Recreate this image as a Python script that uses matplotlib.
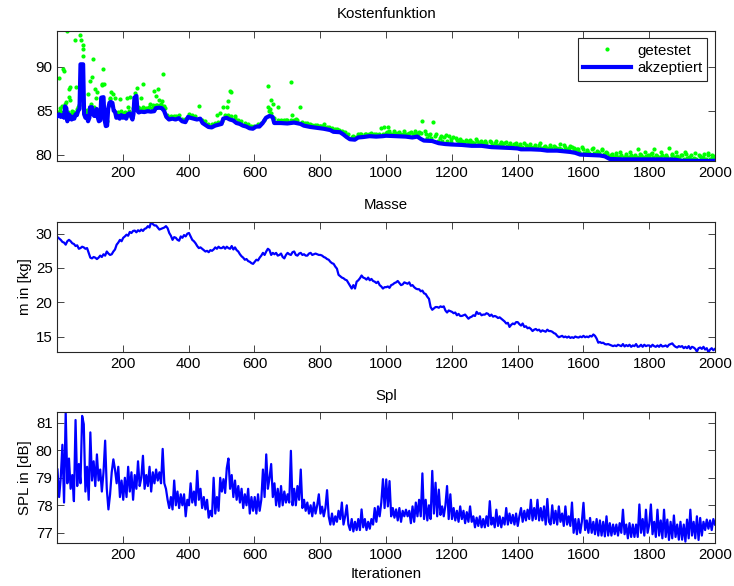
import numpy as np
import matplotlib
matplotlib.use("Agg")
import matplotlib.pyplot as plt

plt.rcParams["font.family"] = ["Liberation Sans", "DejaVu Sans"]
plt.rcParams["font.size"] = 10.8

# ---- Kostenfunktion: accepted cost (iteration, value) ----
cost_iter = [1, 6, 11, 16, 21, 24, 28, 31, 35, 40, 44, 48, 52, 56, 60, 64, 68, 71, 79, 82,
             86, 90, 94, 98, 100, 106, 109, 113, 117, 120, 123, 127, 131, 134, 141, 144, 148, 152, 155, 159,
             163, 168, 172, 176, 180, 185, 190, 195, 200, 205, 210, 215, 220, 225, 229, 232, 235, 241, 244, 248,
             255, 265, 275, 285, 295, 300, 310, 318, 325, 332, 340, 350, 360, 370, 380, 390, 398, 405, 415, 425,
             435, 442, 450, 460, 470, 480, 490, 500, 505, 515, 525, 535, 545, 555, 565, 575, 585, 595, 605, 615,
             625, 635, 645, 655, 660, 680, 700, 720, 740, 750, 770, 790, 810, 830, 840, 860, 870, 880, 890, 905,
             915, 930, 950, 970, 990, 1000, 1030, 1060, 1080, 1095, 1105, 1115, 1140, 1160, 1180, 1200, 1230, 1260, 1290, 1320,
             1350, 1380, 1400, 1410, 1440, 1470, 1490, 1520, 1545, 1560, 1575, 1590, 1620, 1650, 1665, 1680, 1720, 1760, 1800, 1840,
             1880, 1895, 1940, 1980, 2000]
cost_accepted = [84.4, 84.6, 84.3, 84.5, 84.2, 85.5, 85.3, 83.8, 84.6, 84.4, 84.0, 84.3, 84.1, 84.6, 84.5, 85.0, 85.2, 90.3, 90.3, 84.6,
                 84.2, 84.4, 83.8, 84.2, 85.4, 85.4, 84.6, 84.4, 84.6, 85.2, 84.3, 83.8, 83.9, 86.5, 86.55, 84.0, 83.25, 83.3, 85.2, 85.9,
                 86.0, 85.9, 85.0, 84.9, 84.2, 84.4, 84.1, 84.5, 84.2, 84.4, 84.1, 84.6, 84.7, 84.3, 84.0, 84.6, 86.5, 86.7, 85.0, 84.8,
                 84.9, 84.85, 84.95, 84.9, 84.95, 85.3, 85.35, 85.3, 85.0, 84.3, 84.0, 84.1, 84.0, 84.15, 83.8, 83.7, 84.3, 84.2, 84.1, 84.0,
                 84.1, 83.6, 83.4, 83.15, 83.1, 83.3, 83.4, 83.5, 84.1, 84.2, 84.0, 83.9, 83.6, 83.5, 83.3, 83.2, 83.0, 82.95, 83.2, 83.2,
                 83.6, 84.2, 84.4, 84.3, 83.6, 83.6, 83.55, 83.65, 83.5, 83.3, 83.15, 83.05, 82.95, 82.8, 82.6, 82.55, 82.3, 82.0, 81.75, 81.7,
                 81.95, 82.0, 82.1, 82.05, 82.1, 82.15, 82.1, 82.05, 81.95, 82.05, 81.8, 81.6, 81.55, 81.3, 81.2, 81.15, 81.1, 81.0, 81.0, 80.85,
                 80.8, 80.75, 80.7, 80.6, 80.6, 80.55, 80.45, 80.45, 80.35, 80.3, 80.2, 80.0, 79.95, 79.9, 79.8, 79.5, 79.45, 79.45, 79.45, 79.45,
                 79.42, 79.3, 79.28, 79.27, 79.3]

# ---- Kostenfunktion: tested candidates (iteration, value) ----
tested_iter = [5, 18, 20, 25, 30, 35, 38, 35, 40, 55, 57, 70, 72, 78, 80, 78, 68, 93, 100, 105,
               108, 115, 120, 118, 135, 137, 140, 143, 165, 170, 175, 190, 212, 222, 242, 262, 255, 295, 300, 308,
               310, 318, 322, 283, 290, 430, 485, 495, 505, 515, 520, 525, 530, 540, 640, 640, 648, 650, 655, 645,
               672, 710, 715, 738, 800, 810, 870, 985, 993,
               10, 15, 45, 50, 60, 90, 112, 125, 150, 160, 185, 195, 205, 215, 230, 250, 260, 270, 280, 300,
               315, 325, 340, 360, 380, 400, 420, 440, 460, 480, 500, 510, 530, 550, 570, 590, 610, 630, 650, 670,
               690, 700, 720, 730, 745, 760, 775, 790, 805, 820, 835, 850, 865, 885, 900, 915, 925, 940, 955, 970,
               1000, 1005, 1010, 1020, 1035, 1050, 1065, 1075, 1090, 1100, 1110, 1120, 1130, 1142, 1150, 1165, 1175, 1190, 1205, 1215,
               1230, 1245, 1260, 1275, 1290, 1305, 1315, 1330, 1345, 1360, 1375, 1390, 1405, 1420, 1435, 1450, 1465, 1480, 1495, 1510,
               1525, 1540, 1555, 1565, 1580, 1595, 1610, 1625, 1640, 1655, 1670, 1685, 1700, 1715, 1730, 1745, 1760, 1765, 1775, 1790,
               1805, 1815, 1825, 1840, 1855, 1860, 1870, 1885, 1900, 1910, 1920, 1935, 1950, 1965, 1980, 1990, 2000,
               3, 8, 13, 27, 33, 43, 47, 53, 63, 66, 85, 88, 96, 102, 110, 128, 132, 146, 153, 157,
               162, 178, 183, 188, 198, 208, 218, 226, 238, 246, 252, 258, 268, 275, 288, 305, 313, 328, 335, 345,
               355, 370, 390, 410, 450, 470, 490, 520, 540, 560, 580, 600, 620, 660,
               680, 695, 712, 725, 755, 768, 783, 798, 812, 828, 845, 858, 875, 895, 908, 920, 935, 948, 962, 978,
               992, 1015, 1028, 1042, 1058, 1083, 1096, 1125, 1138, 1158, 1170, 1185, 1198, 1222, 1238, 1252, 1268, 1282, 1298, 1322,
               1338, 1352, 1368, 1382, 1398, 1412, 1428, 1442, 1458, 1472, 1488, 1502, 1518, 1532, 1548, 1572, 1588, 1602, 1618, 1632,
               1648, 1662, 1678, 1692, 1708, 1722, 1738, 1752, 1768, 1782, 1798, 1812, 1832, 1848, 1865, 1878, 1892, 1905, 1915, 1928,
               1942, 1958, 1972, 1985, 1995,
               1003, 1012, 1025, 1040, 1055, 1070, 1088, 1105, 1118, 1135, 1152, 1168, 1182, 1196, 1212, 1226, 1242, 1256, 1272, 1288,
               1302, 1318, 1334, 1348, 1364, 1378, 1394, 1408, 1424, 1438, 1454, 1468, 1484, 1498, 1514, 1528, 1544, 1558, 1570, 1585,
               1598, 1612, 1628, 1644, 1658, 1673, 1688, 1698, 1712, 1728, 1742, 1758, 1772, 1786, 1796, 1808, 1822, 1836, 1852, 1868,
               1882, 1896, 1912, 1926, 1940, 1955, 1968, 1978, 1992]
tested_cost = [88.7, 89.8, 89.5, 85.8, 94.1, 87.5, 87.7, 86.6, 86.2, 93.1, 87.7, 93.6, 93.1, 92.1, 92.5, 91.3, 86.9, 86.9, 88.4, 88.9,
               90.9, 87.5, 87.1, 86.4, 87.9, 88.0, 89.8, 88.1, 87.1, 86.9, 86.4, 86.3, 86.4, 86.6, 87.6, 88.1, 86.4, 87.2, 86.7, 87.5,
               86.2, 86.1, 89.2, 85.8, 85.6, 85.5, 84.5, 84.7, 85.4, 85.4, 86.1, 87.2, 87.1, 84.4, 87.8, 85.4, 85.2, 86.2, 85.8, 85.0,
               85.4, 88.3, 84.5, 85.4, 83.3, 83.5, 82.6, 83.0, 83.1,
               85.3, 85.5, 85.0, 84.9, 85.2, 85.1, 85.4, 84.8, 84.0, 86.3, 84.9, 85.0, 84.9, 85.4, 85.3, 85.3, 85.4, 85.3, 85.4, 85.7,
               85.8, 85.5, 84.3, 84.4, 84.1, 84.6, 84.4, 84.0, 83.5, 83.6, 83.8, 84.5, 84.4, 84.0, 83.6, 83.3, 83.5, 84.0, 84.7, 83.9,
               84.0, 83.9, 84.0, 83.9, 83.7, 83.6, 83.4, 83.4, 83.3, 83.2, 83.0, 82.9, 82.7, 82.3, 82.1, 82.3, 82.4, 82.4, 82.5, 82.4,
               82.5, 83.2, 82.7, 82.4, 82.5, 82.4, 82.3, 82.6, 82.5, 82.6, 83.8, 82.4, 82.2, 83.7, 82.1, 81.9, 82.0, 82.1, 82.0, 81.7,
               81.6, 81.5, 81.4, 81.5, 81.4, 81.3, 81.55, 81.3, 81.2, 81.3, 81.1, 81.2, 81.0, 81.3, 81.0, 80.9, 81.1, 80.9, 80.8, 81.0,
               80.8, 81.1, 80.7, 80.9, 80.6, 80.9, 80.5, 80.6, 80.4, 80.5, 80.3, 80.0, 79.9, 80.0, 79.8, 80.0, 79.7, 80.6, 79.9, 79.8,
               80.1, 80.6, 79.8, 80.0, 79.7, 80.7, 79.9, 79.8, 80.0, 80.3, 79.7, 79.6, 79.9, 79.7, 80.0, 79.6, 79.8,
               84.9, 85.0, 84.8, 86.0, 84.9, 84.6, 84.7, 84.8, 85.4, 85.6, 84.9, 84.8, 84.6, 85.8, 85.0, 84.4, 84.5, 84.3, 83.8, 85.6,
               86.4, 84.7, 84.8, 84.6, 84.8, 84.7, 85.0, 84.8, 87.0, 85.4, 85.2, 85.2, 85.2, 85.3, 85.3, 85.6, 85.7, 85.3, 84.5, 84.4,
               84.4, 84.5, 84.1, 84.5, 83.8, 83.5, 83.7, 84.5, 84.2, 83.8, 83.5, 83.3, 83.6, 84.2,
               83.9, 84.0, 83.9, 84.1, 83.6, 83.5, 83.4, 83.3, 83.2, 83.1, 82.9, 82.8, 82.6, 82.0, 82.0, 82.3, 82.3, 82.4, 82.4, 82.4,
               82.4, 82.4, 82.5, 82.4, 82.4, 82.3, 82.4, 81.9, 81.9, 81.6, 81.55, 81.5, 81.45, 81.4, 81.4, 81.3, 81.3, 81.3, 81.3, 81.1,
               81.1, 81.05, 81.0, 81.0, 80.95, 80.9, 80.85, 80.85, 80.8, 80.8, 80.75, 80.7, 80.7, 80.65, 80.6, 80.5, 80.3, 80.2, 80.2, 80.2,
               80.15, 80.05, 79.8, 79.7, 79.7, 79.7, 79.7, 79.7, 79.75, 79.7, 79.7, 79.7, 79.7, 79.7, 79.65, 79.7, 79.6, 79.55, 79.6, 79.5,
               79.55, 79.5, 79.55, 79.5, 79.55,
               82.6, 82.35, 82.7, 82.6, 82.7, 82.45, 82.7, 82.5, 82.7, 82.3, 82.4, 82.1, 82.2, 81.8, 81.9, 81.8, 81.7, 81.7, 81.75, 81.6,
               81.5, 81.4, 81.5, 81.4, 81.45, 81.35, 81.3, 81.2, 81.1, 81.2, 81.05, 81.3, 81.0, 81.1, 80.9, 81.2, 80.9, 81.0, 80.75, 80.6,
               80.65, 80.4, 80.8, 80.35, 80.6, 80.2, 80.1, 80.2, 80.3, 80.05, 80.25, 79.9, 80.1, 80.3, 79.95, 80.15, 80.0, 80.3, 79.9, 80.1,
               80.25, 79.9, 80.1, 79.9, 80.2, 79.8, 80.05, 80.2, 79.9]

# ---- Masse in kg, sampled every 5 iterations ----
mass_kg = [29.5, 29.3, 29.1, 28.8, 28.7, 28.4, 28.9, 29.1, 28.9, 28.6, 28.5, 28.2, 28.3, 27.8, 27.9, 28.1, 28.0, 27.8, 27.9, 27.2,
           26.5, 26.4, 26.6, 26.5, 26.3, 26.5, 26.8, 26.6, 27.0, 26.8, 27.4, 27.1, 26.9, 27.0, 27.4, 27.7, 28.4, 28.7, 29.1, 28.9,
           29.4, 29.6, 29.85, 29.7, 30.25, 30.1, 30.4, 30.45, 30.2, 30.5, 30.35, 30.6, 30.4, 30.7, 30.8, 31.1, 30.9, 31.75, 31.4, 31.2,
           31.2, 30.9, 30.6, 30.7, 30.8, 30.9, 31.1, 30.8, 30.1, 29.7, 29.1, 29.5, 29.4, 29.1, 28.97, 29.6, 29.4, 29.8, 29.6, 30.0,
           30.1, 29.6, 29.1, 28.9, 28.6, 28.2, 27.9, 28.0, 27.8, 27.6, 27.4, 27.5, 27.3, 27.6, 27.5, 27.7, 28.0, 27.8, 28.1, 27.9,
           27.9, 28.1, 27.8, 28.1, 27.9, 27.8, 28.2, 27.7, 28.0, 27.6, 27.4, 27.0, 26.7, 26.5, 26.2, 26.3, 26.0, 25.9, 25.7, 25.6,
           25.9, 26.2, 26.1, 26.5, 26.8, 27.2, 26.9, 27.4, 27.8, 27.6, 26.9, 27.2, 27.0, 27.2, 26.8, 26.9, 27.1, 26.6, 26.4, 26.9,
           27.2, 27.0, 26.9, 27.3, 27.4, 26.9, 26.8, 27.1, 27.2, 26.9, 27.0, 26.8, 26.8, 27.1, 27.2, 26.9, 27.0, 27.1, 27.0, 26.9,
           26.9, 26.8, 26.6, 26.5, 26.3, 26.2, 25.9, 25.7, 25.6, 25.2, 24.9, 24.0, 23.8, 23.6, 23.5, 23.3, 23.2, 22.8, 22.4, 22.0,
           22.5, 22.0, 23.0, 23.2, 23.5, 23.9, 23.6, 23.5, 23.3, 23.6, 23.2, 23.4, 23.1, 23.0, 22.8, 23.0, 22.5, 22.3, 22.0, 22.2,
           22.2, 22.3, 22.1, 22.5, 22.6, 22.8, 22.9, 23.1, 22.8, 22.5, 22.6, 22.9, 22.8, 22.7, 22.9, 22.4, 22.5, 22.2, 22.0, 21.9,
           21.9, 21.6, 21.7, 21.3, 21.2, 20.8, 20.5, 19.3, 18.9, 19.1, 19.3, 19.3, 19.2, 19.4, 19.3, 19.4, 18.8, 18.5, 18.8, 18.7,
           18.6, 18.4, 18.5, 18.1, 18.3, 18.0, 18.0, 18.1, 18.2, 17.9, 17.6, 17.8, 17.9, 18.1, 18.0, 18.6, 18.3, 18.4, 18.1, 18.2,
           18.2, 18.4, 18.3, 18.0, 18.2, 17.9, 18.0, 17.9, 17.7, 17.8, 17.6, 17.4, 17.2, 16.9, 17.0, 16.4, 16.7, 16.9, 16.8, 17.1,
           17.1, 16.8, 16.6, 16.9, 16.4, 16.5, 16.2, 16.3, 16.1, 15.8, 16.0, 16.1, 15.9, 16.0, 15.7, 15.9, 15.8, 15.7, 16.0, 15.8,
           15.8, 15.7, 15.5, 15.4, 15.1, 14.9, 15.0, 15.1, 14.9, 15.0, 14.85, 15.0, 14.8, 14.9, 14.8, 15.0, 14.9, 14.85, 15.0, 14.9,
           15.1, 14.9, 15.0, 14.9, 15.1, 15.0, 15.3, 15.1, 14.7, 14.1, 14.2, 14.05, 14.1, 13.9, 13.85, 13.9, 13.8, 13.7, 13.6, 13.7,
           13.6, 13.8, 13.7, 13.6, 13.9, 13.55, 13.75, 13.6, 13.8, 13.5, 13.7, 13.6, 13.9, 13.5, 13.55, 13.8, 13.5, 13.8, 13.6, 13.7,
           13.7, 13.5, 13.8, 13.6, 13.5, 13.7, 13.5, 13.8, 13.55, 13.6, 13.7, 13.5, 13.8, 13.9, 14.0, 13.7, 13.5, 13.4, 13.6, 13.5,
           13.6, 13.3, 13.5, 13.3, 13.6, 13.2, 13.5, 13.4, 13.2, 12.8, 13.3, 13.4, 13.2, 13.5, 13.1, 13.3, 12.7, 13.1, 13.3, 13.0,
           13.2]

# ---- SPL in dB, sampled every 5 iterations ----
spl_db = [79.3, 78.3, 79.0, 80.2, 78.1, 81.38, 78.8, 79.7, 78.6, 79.1, 78.15, 81.1, 78.7, 79.5, 78.8, 81.25, 80.95, 78.5, 79.4, 78.2,
          80.65, 78.9, 79.6, 78.7, 79.85, 78.9, 79.3, 78.5, 79.2, 80.35, 78.6, 77.85, 78.4, 79.2, 79.67, 79.3, 78.8, 79.4, 78.3, 78.9,
          78.2, 79.0, 78.3, 79.4, 78.5, 79.2, 78.2, 79.1, 78.6, 79.6, 78.7, 79.0, 79.8, 78.6, 79.1, 78.7, 79.4, 78.5, 79.2, 78.8,
          79.3, 78.9, 79.2, 78.8, 80.05, 78.8, 78.6, 78.2, 77.9, 78.3, 77.85, 78.9, 78.0, 78.5, 77.9, 78.4, 78.0, 78.4, 77.6, 78.2,
          78.0, 78.8, 78.1, 78.5, 78.0, 79.25, 78.2, 78.6, 77.9, 78.3, 77.85, 78.2, 77.55, 77.8, 77.6, 79.0, 77.7, 78.3, 77.8, 79.0,
          78.5, 78.95, 78.45, 79.35, 79.7, 78.6, 79.1, 78.3, 78.9, 78.2, 78.7, 78.1, 78.6, 77.9, 78.4, 78.0, 78.6, 77.7, 78.3, 77.8,
          78.3, 77.7, 78.4, 77.8, 78.2, 79.3, 78.3, 79.85, 78.6, 79.0, 79.5, 78.3, 78.8, 78.0, 78.6, 77.95, 78.7, 78.0, 78.5, 78.1,
          78.4, 78.1, 79.98, 78.0, 78.6, 78.0, 78.7, 78.2, 79.3, 77.9, 78.2, 77.8, 78.1, 77.7, 78.0, 77.6, 78.1, 77.7, 78.0, 78.4,
          77.7, 77.95, 77.6, 77.9, 78.55, 77.6, 77.3, 77.7, 77.3, 77.6, 77.4, 77.8, 77.5, 78.1, 77.3, 77.6, 78.0, 77.3, 77.1, 77.5,
          77.05, 77.4, 77.1, 77.5, 77.1, 77.85, 77.2, 77.5, 77.1, 77.4, 77.15, 77.5, 77.3, 77.9, 77.4, 77.96, 77.6, 78.1, 78.95, 77.9,
          78.94, 77.96, 78.88, 77.6, 77.9, 77.55, 77.85, 77.45, 77.9, 77.4, 77.8, 77.6, 77.84, 77.6, 77.8, 77.35, 77.96, 77.4, 78.1, 77.6,
          78.2, 77.6, 79.16, 77.5, 78.2, 77.45, 78.0, 77.5, 79.25, 77.7, 78.82, 77.6, 78.57, 77.65, 77.96, 77.6, 78.0, 78.7, 77.5, 78.4,
          77.5, 77.9, 77.45, 77.8, 77.4, 77.96, 77.5, 77.8, 77.35, 77.75, 77.4, 77.96, 77.4, 77.6, 77.2, 77.55, 77.25, 77.6, 77.2, 77.5,
          77.2, 77.6, 77.25, 78.15, 77.3, 77.55, 77.2, 77.84, 77.25, 77.6, 77.2, 77.55, 77.3, 77.9, 77.3, 77.7, 77.35, 77.65, 77.3, 77.7,
          77.25, 77.6, 77.9, 77.4, 77.8, 77.45, 77.84, 77.5, 78.2, 77.45, 77.9, 77.5, 78.2, 77.45, 77.9, 77.45, 77.96, 77.3, 78.23, 77.4,
          77.3, 78.0, 77.35, 77.8, 77.3, 77.96, 77.4, 77.7, 77.25, 77.96, 77.3, 77.6, 77.25, 78.1, 77.0, 77.5, 76.95, 77.5, 77.0, 77.4,
          78.09, 77.1, 77.45, 77.0, 77.54, 77.0, 77.4, 76.95, 77.5, 76.9, 77.45, 76.9, 77.4, 76.87, 77.6, 76.9, 77.35, 76.9, 77.3, 76.95,
          77.3, 76.9, 77.35, 77.0, 77.84, 76.95, 77.3, 76.8, 77.35, 76.85, 77.3, 76.85, 77.3, 76.85, 78.03, 77.0, 77.5, 76.9, 77.84, 77.0,
          77.3, 78.03, 76.95, 77.4, 76.85, 77.84, 76.9, 77.45, 76.8, 77.84, 76.85, 77.48, 76.74, 77.4, 76.8, 77.63, 76.85, 77.3, 76.75, 77.4,
          76.75, 77.3, 76.68, 77.48, 76.8, 77.84, 76.9, 77.4, 76.8, 77.6, 76.74, 77.54, 76.9, 77.4, 77.1, 77.48, 77.15, 77.45, 77.1, 77.5,
          77.3]

x_ticks = [200, 400, 600, 800, 1000, 1200, 1400, 1600, 1800, 2000]

BLUE = (0, 0, 1)
GREEN = (0, 1, 0)
FRAME = "#262626"

fig = plt.figure(figsize=(7.34, 5.86), dpi=100)
left, width = 0.0783, 0.8958
ax1 = fig.add_axes([left, 0.7253, width, 0.2218])
ax2 = fig.add_axes([left, 0.3988, width, 0.2229])
ax3 = fig.add_axes([left, 0.0734, width, 0.2230])


def style(ax):
    ax.set_xlim(1, 2000)
    ax.set_xticks(x_ticks)
    ax.tick_params(direction="in", length=5, width=0.6, top=True, right=True,
                   colors=FRAME, labelcolor="black", pad=3.5)
    for s in ax.spines.values():
        s.set_color(FRAME)
        s.set_linewidth(0.8)


# Kostenfunktion
ax1.plot(tested_iter, tested_cost, ".", color=GREEN, markersize=4,
         label="getestet", zorder=2)
ax1.plot(cost_iter, cost_accepted, "-", color=BLUE, linewidth=3.0,
         label="akzeptiert", zorder=3)
lo = min(min(tested_cost), min(cost_accepted))
hi = max(max(tested_cost), max(cost_accepted))
ax1.set_ylim(lo, hi)
ax1.set_yticks([80, 85, 90])
ax1.set_title("Kostenfunktion", fontsize=10.8, pad=9)
style(ax1)
leg = ax1.legend(loc="upper right", frameon=True, fancybox=False,
                 edgecolor=FRAME, framealpha=1, handlelength=3.2,
                 borderaxespad=0.5, borderpad=0.35, labelspacing=0.25,
                 handletextpad=0.4, fontsize=10.8, markerscale=1.0)
leg.get_frame().set_linewidth(0.8)

# Masse
x_mass = np.linspace(1, 2000, len(mass_kg))
ax2.plot(x_mass, mass_kg, "-", color=BLUE, linewidth=1.6)
ax2.set_ylim(min(mass_kg), max(mass_kg))
ax2.set_yticks([15, 20, 25, 30])
ax2.set_title("Masse", fontsize=10.8, pad=9)
ax2.set_ylabel("m in [kg]", labelpad=2.4)
style(ax2)

# Spl
x_spl = np.linspace(1, 2000, len(spl_db))
ax3.plot(x_spl, spl_db, "-", color=BLUE, linewidth=1.6)
ax3.set_ylim(min(spl_db) - 0.05, max(spl_db))
ax3.set_yticks([77, 78, 79, 80, 81])
ax3.set_title("Spl", fontsize=10.8, pad=9)
ax3.set_ylabel("SPL in [dB]", labelpad=2.4)
ax3.set_xlabel("Iterationen", labelpad=4)
style(ax3)

fig.savefig("out.png", dpi=100)
